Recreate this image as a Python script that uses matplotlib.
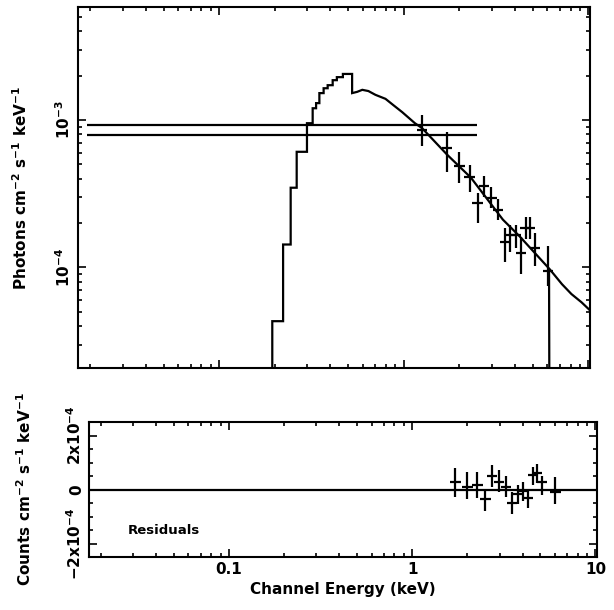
import numpy as np
import matplotlib
matplotlib.use("Agg")
import matplotlib.pyplot as plt
from matplotlib.ticker import FixedLocator, NullFormatter, LogLocator

# ---------------- data ----------------
# Model (stepped low-energy part): bin edges (keV) and values
model_step_edges = [0.194, 0.222, 0.244, 0.263, 0.299, 0.321, 0.335, 0.349,
                    0.368, 0.387, 0.412, 0.434, 0.468, 0.525]
model_step_vals = [4.32e-5, 1.43e-4, 3.47e-4, 6.08e-4, 9.5e-4, 1.20e-3, 1.30e-3,
                   1.52e-3, 1.64e-3, 1.72e-3, 1.86e-3, 1.95e-3, 2.05e-3]
# Model (continuum above the O edge)
model_E = [0.525, 0.559, 0.596, 0.643, 0.702, 0.796, 0.878, 0.980, 1.149, 1.256,
           1.72, 2.31, 3.44, 4.25, 6.18, 7.19, 8.09, 9.18, 10.4]
model_F = [1.52e-3, 1.55e-3, 1.60e-3, 1.57e-3, 1.48e-3, 1.39e-3, 1.26e-3, 1.13e-3,
           9.5e-4, 8.8e-4, 5.8e-4, 4.06e-4, 2.11e-4, 1.62e-4, 9.7e-5, 7.7e-5,
           6.6e-5, 5.8e-5, 5.0e-5]

# Wide low-energy bin drawn as two horizontal lines
wide_bin_E = [0.0192, 2.5]
wide_bin_F = [9.25e-4, 7.92e-4]

# Data drop line at high energy
drop_E = [6.12, 6.15]
drop_F = [9.4e-5, 1.0e-5]

# Unfolded spectrum points
spec_E = [1.256, 1.72, 2.0, 2.27, 2.51, 2.72, 2.98, 3.25, 3.52, 3.78, 4.03,
          4.30, 4.57, 4.81, 5.13, 6.05]
spec_F = [8.56e-4, 6.47e-4, 4.89e-4, 4.12e-4, 2.75e-4, 3.58e-4, 2.97e-4, 2.47e-4,
          1.48e-4, 1.67e-4, 1.67e-4, 1.26e-4, 1.86e-4, 1.86e-4, 1.36e-4, 9.4e-5]
spec_F_hi = [1.08e-3, 8.3e-4, 6.08e-4, 4.97e-4, 3.21e-4, 4.19e-4, 3.52e-4, 2.92e-4,
             1.86e-4, 1.95e-4, 1.95e-4, 1.60e-4, 2.21e-4, 2.21e-4, 1.72e-4, 1.39e-4]
spec_F_lo = [6.67e-4, 4.45e-4, 3.75e-4, 3.27e-4, 2.01e-4, 3.02e-4, 2.54e-4, 2.11e-4,
             1.08e-4, 1.28e-4, 1.36e-4, 8.97e-5, 1.55e-4, 1.55e-4, 1.02e-4, 7.45e-5]

# Residuals
res_E = spec_E[1:]
res_R = [2.6e-5, 1.1e-5, 1.5e-5, -3.4e-5, 4.9e-5, 2.6e-5, 0.75e-5, -4.9e-5,
         -1.5e-5, -0.4e-5, -3.0e-5, 5.3e-5, 6.0e-5, 2.6e-5, -1.1e-5]
res_hi = [7.9e-5, 6.4e-5, 6.4e-5, -0.4e-5, 9.0e-5, 7.1e-5, 4.9e-5, -1.1e-5,
          1.5e-5, 2.6e-5, -0.4e-5, 8.3e-5, 9.4e-5, 4.9e-5, 4.5e-5]
res_lo = [-2.6e-5, -3.4e-5, -3.0e-5, -7.9e-5, 0.75e-5, -0.75e-5, -2.6e-5, -9.0e-5,
          -5.3e-5, -4.1e-5, -6.8e-5, 1.5e-5, 2.3e-5, -1.9e-5, -5.3e-5]

bin_halfwidth_dex = 0.028

xlim = (0.0172, 10.2)
ylim_top = (2.08e-5, 5.83e-3)
ylim_bot = (-2.5e-4, 2.5e-4)

# ---------------- style ----------------
plt.rcParams['font.family'] = ['DejaVu Sans']
plt.rcParams['font.weight'] = 'bold'
plt.rcParams['mathtext.fontset'] = 'dejavusans'
plt.rcParams['mathtext.default'] = 'bf'

W, H = 614, 610
fig = plt.figure(figsize=(W / 100, H / 100), dpi=100)

def rect(l, r, t, b):
    return [l / W, 1 - b / H, (r - l) / W, (b - t) / H]

ax1 = fig.add_axes(rect(78, 590, 7, 368))
ax2 = fig.add_axes(rect(89, 597, 422, 557))

lw = 1.6
for ax in (ax1, ax2):
    ax.set_xscale('log')
    ax.set_xlim(*xlim)
    for s in ax.spines.values():
        s.set_linewidth(1.5)
    ax.tick_params(which='both', direction='in', top=True, right=True,
                   width=1.2, labelsize=11)
    ax.tick_params(which='major', length=6)
    ax.tick_params(which='minor', length=3)
    ax.xaxis.set_minor_locator(LogLocator(base=10, subs=np.arange(2, 10)))
    ax.xaxis.set_minor_formatter(NullFormatter())

# ---- top panel ----
ax1.set_yscale('log')
ax1.set_ylim(*ylim_top)
# build one continuous model path: vertical rise from zero, steps, then continuum
edges = np.array(model_step_edges)
vals = np.array(model_step_vals)
path_x = [edges[0]]
path_y = [0.0]
for i, v in enumerate(vals):
    path_x += [edges[i], edges[i + 1]]
    path_y += [v, v]
path_x += list(model_E)
path_y += list(model_F)
ax1.plot(path_x, path_y, color='black', lw=lw, solid_joinstyle='miter')
ax1.plot(drop_E, drop_F, color='black', lw=lw)
ax1.hlines(wide_bin_F, wide_bin_E[0], wide_bin_E[1], color='black', lw=lw)

sE = np.array(spec_E)
sF = np.array(spec_F)
fac = 10 ** bin_halfwidth_dex
ax1.errorbar(sE, sF,
             yerr=[sF - np.array(spec_F_lo), np.array(spec_F_hi) - sF],
             xerr=[sE - sE / fac, sE * fac - sE],
             fmt='none', ecolor='black', elinewidth=lw, capsize=0)

ax1.set_yticks([1e-4, 1e-3])
ax1.set_yticklabels([r'$10^{-4}$', r'$10^{-3}$'], rotation=90, va='center')
ax1.yaxis.set_minor_locator(LogLocator(base=10, subs=np.arange(2, 10)))
ax1.yaxis.set_minor_formatter(NullFormatter())
ax1.set_xticks([0.1, 1, 10])
ax1.tick_params(axis='x', which='both', labelbottom=False)
ax1.set_ylabel(r'Photons cm$^{-2}$ s$^{-1}$ keV$^{-1}$', fontsize=11,
               fontweight='bold')
ax1.yaxis.set_label_coords(-0.093, 0.5)

# ---- bottom panel ----
ax2.set_ylim(*ylim_bot)
ax2.axhline(0, color='black', lw=lw)
rE = np.array(res_E)
rR = np.array(res_R)
ax2.errorbar(rE, rR,
             yerr=[rR - np.array(res_lo), np.array(res_hi) - rR],
             xerr=[rE - rE / fac, rE * fac - rE],
             fmt='none', ecolor='black', elinewidth=lw, capsize=0)
ax2.set_yticks([-2e-4, 0, 2e-4])
ax2.set_yticklabels([r'$-2\mathrm{x}10^{-4}$', '0', r'$2\mathrm{x}10^{-4}$'],
                    rotation=90, va='center')
ax2.yaxis.set_minor_locator(FixedLocator(np.arange(-2.5e-4, 2.51e-4, 0.5e-4)))
ax2.set_xticks([0.1, 1, 10])
ax2.set_xticklabels(['0.1', '1', '10'])
ax2.set_xlabel('Channel Energy (keV)', fontsize=11, fontweight='bold')
ax2.set_ylabel(r'Counts cm$^{-2}$ s$^{-1}$ keV$^{-1}$', fontsize=11,
               fontweight='bold')
ax2.yaxis.set_label_coords(-0.108, 0.5)
ax2.text(0.077, 0.2, 'Residuals', transform=ax2.transAxes, fontsize=9.5,
         fontweight='bold', va='center', ha='left')

fig.savefig('out.png', dpi=100)
